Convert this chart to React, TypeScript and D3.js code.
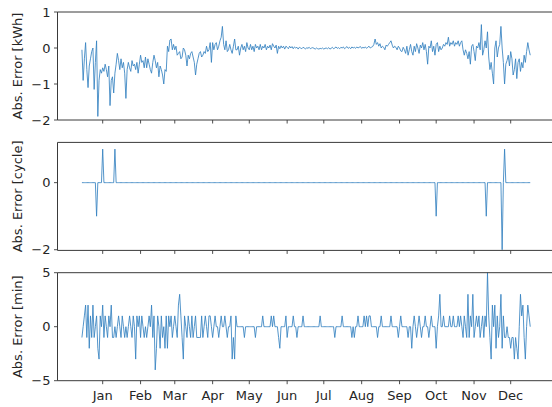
import React from "react";
import * as d3 from "d3";

// ---- data (daily values, starting 29 Dec of previous year) ----
const startYear = 2021;
const monthLabels = ["Jan", "Feb", "Mar", "Apr", "May", "Jun", "Jul", "Aug", "Sep", "Oct", "Nov", "Dec"];

const energyError = [
  -0.05, -0.90, -0.30, 0.15, -0.60, -1.10, -0.50, -0.30, -0.10, 0.00,
  -1.15, -0.40, 0.20, -1.90, -0.90, -0.60, -0.70, -0.55, -0.65, -0.45,
  -0.60, -0.80, -0.50, -1.60, -0.90, -0.80, -1.25, -0.70, -0.45, -0.15,
  -0.35, -0.60, -0.30, -0.55, -0.40, -0.70, -1.40, -0.60, -0.40, -0.55,
  -0.65, -0.35, -0.50, -0.45, -0.60, -0.40, -0.70, -0.45, -0.20, -0.40,
  -0.35, -0.55, -0.25, -0.55, -0.30, -0.45, -0.60, -0.70, -0.40, -0.20,
  -0.35, -0.55, -0.40, -0.80, -0.50, -0.60, -0.75, -1.00, -0.60, -0.65,
  0.05, -0.10, 0.22, 0.25, -0.05, 0.10, -0.05, 0.05, -0.20, -0.15,
  -0.10, -0.30, -0.25, 0.00, -0.05, -0.20, -0.50, -0.20, -0.30, -0.15,
  -0.10, -0.25, -0.40, -0.75, -0.45, -0.30, -0.15, -0.10, -0.25, -0.20,
  -0.10, -0.15, 0.05, -0.10, -0.05, 0.15, -0.40, 0.15, -0.05, 0.10,
  0.15, -0.05, 0.05, 0.20, 0.30, 0.60, 0.10, -0.05, 0.20, -0.10,
  -0.05, 0.10, -0.05, -0.15, 0.05, 0.25, -0.05, -0.05, 0.05, -0.20,
  0.00, 0.10, -0.05, 0.05, -0.10, 0.15, 0.00, -0.05, 0.10, -0.05,
  0.05, -0.10, 0.10, 0.00, 0.05, -0.05, 0.10, -0.05, 0.05, 0.00,
  0.10, -0.05, 0.05, 0.00, 0.08, -0.05, 0.12, 0.05, 0.00, 0.08,
  -0.15, 0.05, -0.02, 0.06, 0.00, 0.05, -0.03, 0.05, 0.02, -0.02,
  0.05, 0.00, 0.04, -0.02, 0.03, 0.00, 0.02, -0.03, 0.02, 0.00,
  -0.02, 0.02, 0.00, -0.03, 0.01, -0.01, 0.02, -0.02, 0.00, 0.01,
  -0.01, -0.03, 0.00, -0.02, -0.03, -0.01, -0.02, 0.00, -0.03, -0.01,
  0.00, -0.02, 0.01, -0.03, -0.01, 0.02, -0.02, 0.00, 0.03, -0.01,
  0.01, -0.02, 0.02, 0.00, 0.03, -0.02, 0.01, 0.04, -0.01, 0.02,
  -0.02, 0.03, 0.00, 0.02, -0.01, 0.03, 0.00, 0.02, 0.04, -0.01,
  0.02, 0.00, 0.03, -0.01, 0.02, 0.05, 0.00, 0.02, 0.04, 0.10,
  0.25, 0.10, 0.15, 0.05, 0.12, 0.00, 0.05, 0.02, -0.05, 0.08,
  0.05, 0.10, 0.15, 0.20, 0.08, 0.00, 0.05, 0.02, -0.05, 0.05,
  0.00, -0.08, -0.10, 0.02, -0.05, -0.15, 0.05, -0.20, -0.05, 0.10,
  -0.10, -0.20, 0.05, -0.10, 0.12, 0.00, -0.15, 0.08, 0.00, 0.15,
  -0.05, 0.10, -0.10, -0.45, 0.05, 0.00, 0.20, -0.10, 0.05, -0.20,
  0.10, 0.15, -0.10, 0.05, -0.05, 0.00, 0.10, 0.05, 0.15, 0.10,
  0.30, 0.05, 0.15, 0.10, 0.20, 0.05, 0.15, 0.10, 0.20, 0.05,
  0.15, 0.20, -0.05, -0.20, -0.05, -0.15, -0.30, -0.10, -0.45, 0.05,
  0.10, -0.10, -0.35, 0.05, 0.00, 0.15, -0.05, 0.65, -0.20, -0.05,
  0.20, 0.00, 0.45, -0.25, -0.60, -0.40, -0.70, -1.00, 0.00, 0.20,
  -0.25, 0.00, 0.10, 0.60, 0.00, -0.40, -1.00, -0.45, -0.35, -0.20,
  -0.50, -0.10, -0.30, -0.75, -0.60, -0.30, -0.85, -0.40, -0.30, -0.65,
  -0.40, -0.55, -0.20, -0.40, -0.10, 0.15, -0.05, -0.20,
];

// cycle error: zero except on these days (index into the daily series)
const cycleEventDays = [12, 17, 27, 290, 331, 344, 346];
const cycleEventValues = [-1, 1, 1, -1, -1, -2, 1];

const minuteError = [
  -1, 0, 1, 2, -1, 2, -2, 1, -1, 2,
  -1, 0, 1, -2, -3, 1, 0, 2, -1, 1,
  0, -1, 1, 0, 2, -1, -1, 0, -1, 0,
  1, 0, -1, 1, 0, -1, 0, -1, 0, 1,
  0, -1, 1, 0, -3, 1, 0, 1, -1, 1,
  0, -1, 0, -1, 0, 1, 0, 2, -1, 1,
  -4, -2, 1, 0, -2, 1, -1, 0, -2, 1,
  -2, 1, 0, 1, -1, 0, 1, 0, -1, 2,
  3, 1, -1, -3, 1, 0, -1, 1, 0, -1,
  1, -1, 0, 1, -1, -1, -1, -1, 1, -1,
  0, 1, 0, -1, 1, 1, 0, -1, 0, 1,
  0, 0, -1, 0, 1, 0, 0, 1, 0, -1,
  0, 0, 1, -3, -1, -3, 1, 0, 0, 0,
  0, 0, 0, -1, 0, 0, 0, 0, 0, 0,
  0, 0, -1, 0, 0, 0, 0, 0, 1, 0,
  0, 0, 0, 0, 0, 1, 0, 1, 0, 0,
  0, -1, -2, 0, 0, 0, 0, 1, -1, 0,
  0, 0, 0, 1, 0, 0, -1, 0, 0, 0,
  0, 1, 0, 0, 0, 0, 0, 0, 0, 0,
  0, 0, 0, 0, 0, 1, 0, 0, 0, 0,
  0, 0, 0, 0, 0, 0, 0, -1, 0, 0,
  0, 0, 0, 1, 0, 0, 0, 0, 0, 0,
  0, -1, 0, -1, 0, 0, 1, 0, 0, 0,
  0, 1, 0, 1, 0, 1, 1, 0, 0, 0,
  0, 0, -1, 0, 0, 1, 0, 0, 0, 0,
  0, 0, 0, 1, 0, 0, 0, 0, 0, -1,
  0, 1, 0, 0, 0, 0, 0, -1, 0, 0,
  -2, 0, 1, 0, -1, 0, 1, 0, -1, 0,
  0, 1, 0, 0, -1, 0, 1, 0, 0, 0,
  -2, 0, 1, 3, 0, 0, 1, 0, 0, 0,
  0, 1, 0, 0, 1, 0, 0, 0, 1, 0,
  1, 0, -1, 1, 0, -1, 3, -1, 1, 0,
  3, -1, 0, 1, 0, 1, -1, 0, 1, -1,
  1, 0, 5, 1, -1, -3, 2, 0, 2, -2,
  1, -1, 0, 3, -2, 1, -1, -1, 0, -1,
  -1, -2, -1, -1, -3, -1, -2, -3, 0, 3,
  1, 2, -1, -3, 0, 2, 1, 0,
];

const panels = [
  { label: "Abs. Error [kWh]", domain: [-2, 1], ticks: [-2, -1, 0, 1] },
  { label: "Abs. Error [cycle]", domain: [-2.02, 1.2], ticks: [-2, 0] },
  { label: "Abs. Error [min]", domain: [-5, 5], ticks: [-5, 0, 5] },
];

const W = 552;
const H = 407;
const left = 57.5;
const right = 560;
const panelTops = [12, 142.4, 272.7];
const panelH = 108;
const font = "'DejaVu Sans', sans-serif";
const textColor = "#262626";
const axisColor = "#3a3a3a";
const lineColor = "#3582c0";

function fmt(v: number) {
  return v < 0 ? "\u2212" + Math.abs(v) : String(v);
}

export default function App() {
  const start = new Date(startYear - 1, 11, 29);
  const n = energyError.length;
  const dates = d3.range(n).map((i) => d3.timeDay.offset(start, i));
  const cycleError = dates.map((_, i) => {
    const k = cycleEventDays.indexOf(i);
    return k >= 0 ? cycleEventValues[k] : 0;
  });
  const series = [energyError, cycleError, minuteError];

  const x = d3
    .scaleTime()
    .domain([new Date(startYear, 0, 15), new Date(startYear, 11, 15)])
    .range([102.7, 510.7]);
  const monthTicks = monthLabels.map((_, m) => new Date(startYear, m, 15));

  return (
    <svg width={W} height={H} style={{ position: "absolute", left: 0, top: 0, background: "#fff" }}>
      {panels.map((p, pi) => {
        const top = panelTops[pi];
        const bottom = top + panelH;
        const y = d3.scaleLinear().domain(p.domain).range([bottom, top]);
        const vals = series[pi];
        const line = d3
          .line<number>()
          .x((_, i) => x(dates[i]))
          .y((v) => y(v));
        return (
          <g key={pi}>
            <path d={line(vals) || ""} fill="none" stroke={lineColor} strokeWidth={0.85} strokeLinejoin="round" />
            {/* spines */}
            <line x1={left} x2={right} y1={top} y2={top} stroke={axisColor} strokeWidth={1} />
            <line x1={left} x2={right} y1={bottom} y2={bottom} stroke={axisColor} strokeWidth={1} />
            <line x1={left} x2={left} y1={top} y2={bottom} stroke={axisColor} strokeWidth={1} />
            {/* y ticks */}
            {p.ticks.map((t) => (
              <g key={t}>
                <line x1={left - 3.5} x2={left} y1={y(t)} y2={y(t)} stroke={axisColor} strokeWidth={0.9} />
                <text
                  x={left - 7}
                  y={y(t)}
                  dy="0.36em"
                  textAnchor="end"
                  fontFamily={font}
                  fontSize={13}
                  fill={textColor}
                >
                  {fmt(t)}
                </text>
              </g>
            ))}
            {/* x ticks */}
            {monthTicks.map((d, mi) => (
              <line
                key={mi}
                x1={x(d)}
                x2={x(d)}
                y1={bottom}
                y2={bottom + 3.5}
                stroke={axisColor}
                strokeWidth={0.9}
              />
            ))}
            {/* y label */}
            <text
              transform={`translate(17.5,${(top + bottom) / 2}) rotate(-90)`}
              textAnchor="middle"
              dy="0.36em"
              fontFamily={font}
              fontSize={13}
              fill={textColor}
            >
              {p.label}
            </text>
          </g>
        );
      })}
      {monthTicks.map((d, mi) => (
        <text
          key={mi}
          x={x(d)}
          y={400}
          textAnchor="middle"
          fontFamily={font}
          fontSize={13}
          fill={textColor}
        >
          {monthLabels[mi]}
        </text>
      ))}
    </svg>
  );
}
